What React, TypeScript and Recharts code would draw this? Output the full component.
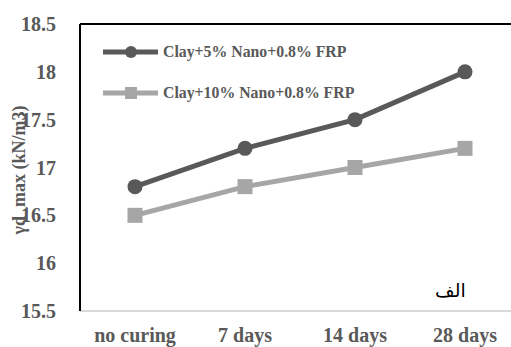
import { LineChart, Line, XAxis, YAxis, ReferenceLine } from "recharts";

const curing = ["no curing", "7 days", "14 days", "28 days"];
const nano5 = [16.8, 17.2, 17.5, 18.0];
const nano10 = [16.5, 16.8, 17.0, 17.2];
const yTicks = [15.5, 16, 16.5, 17, 17.5, 18, 18.5];

const SERIES = [
  { key: "nano5", name: "Clay+5% Nano+0.8% FRP", color: "#595959", shape: "circle" },
  { key: "nano10", name: "Clay+10% Nano+0.8% FRP", color: "#a6a6a6", shape: "square" },
];

const data = curing.map((c, i) => ({ curing: c, nano5: nano5[i], nano10: nano10[i] }));

const FONT = '"Liberation Serif", "Times New Roman", serif';

const SquareDot = (props: any) => {
  const { cx, cy } = props;
  if (cx == null || cy == null) return null;
  return <rect x={cx - 7.5} y={cy - 7.5} width={15} height={15} fill="#a6a6a6" />;
};

// legend drawn as an overlay so it doesn't eat into the plot area
const LegendBox = () => (
  <div
    style={{
      position: "absolute",
      left: 101,
      top: 31,
      fontFamily: FONT,
      fontWeight: "bold",
      fontSize: 15.8,
      color: "#595959",
    }}
  >
    {SERIES.map((s) => (
      <div key={s.key} style={{ display: "flex", alignItems: "center", height: 41, whiteSpace: "nowrap" }}>
        <svg width={60} height={16} style={{ marginRight: 2 }}>
          <line x1={2} y1={8} x2={57} y2={8} stroke={s.color} strokeWidth={5} />
          {s.shape === "circle" ? (
            <circle cx={30} cy={8} r={6} fill={s.color} />
          ) : (
            <rect x={24} y={2} width={12} height={12} fill={s.color} />
          )}
        </svg>
        <span>{s.name}</span>
      </div>
    ))}
  </div>
);

export default function App() {
  return (
    <div style={{ position: "fixed", left: 0, top: 0, width: 511, height: 347, overflow: "hidden", background: "#fff" }}>
      <LineChart width={520} height={347} data={data} margin={{ top: 24, right: 0, bottom: 0, left: 0 }}>
        <XAxis
          dataKey="curing"
          height={36}
          padding={{ left: 55, right: 55 }}
          tickLine={false}
          axisLine={{ stroke: "#d9d9d9", strokeWidth: 2 }}
          tickMargin={11}
          interval={0}
          tick={{ fontFamily: FONT, fontWeight: "bold", fontSize: 20, fill: "#595959" }}
        />
        <YAxis
          width={80}
          domain={[15.5, 18.5]}
          ticks={yTicks}
          tickLine={false}
          axisLine={{ stroke: "#000", strokeWidth: 2 }}
          tickMargin={18}
          tick={{ fontFamily: FONT, fontWeight: "bold", fontSize: 20, fill: "#595959" }}
          label={{
            content: () => (
              <text
                x={21}
                y={170}
                transform="rotate(-90 21 170)"
                textAnchor="middle"
                dominantBaseline="middle"
                fontFamily={FONT}
                fontWeight="bold"
                fontSize={18}
                fill="#595959"
              >
                γd_max (kN/m3)
              </text>
            ),
          }}
        />
        <ReferenceLine y={18.5} stroke="#000" strokeWidth={2} />
        <Line
          dataKey="nano5"
          name={SERIES[0].name}
          stroke="#595959"
          strokeWidth={5}
          dot={{ r: 7.5, fill: "#595959", stroke: "none" }}
          isAnimationActive={false}
        />
        <Line
          dataKey="nano10"
          name={SERIES[1].name}
          stroke="#a6a6a6"
          strokeWidth={5}
          dot={<SquareDot />}
          isAnimationActive={false}
        />
      </LineChart>
      <LegendBox />
      <div
        style={{
          position: "absolute",
          left: 435,
          top: 279,
          fontFamily: '"DejaVu Sans", serif',
          fontSize: 19,
          color: "#000",
          direction: "rtl",
        }}
      >
        الف
      </div>
    </div>
  );
}
